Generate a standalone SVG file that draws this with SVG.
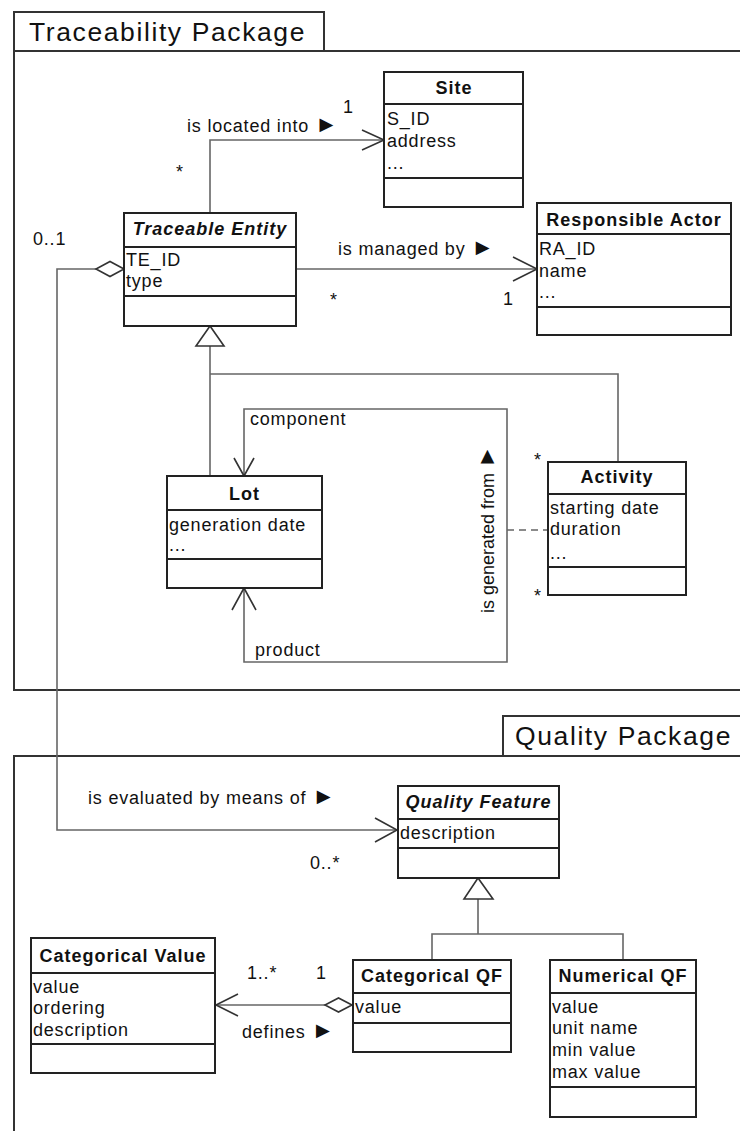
<svg xmlns="http://www.w3.org/2000/svg" width="740" height="1131" viewBox="0 0 740 1131">
<style>
text{font-family:"Liberation Sans",Arial,sans-serif;fill:#111;}
.attr{font-size:18px;letter-spacing:0.8px;}
.lbl{font-size:18px;letter-spacing:0.8px;}
.tri{font-size:23px;}
.hdr{font-size:18px;font-weight:bold;letter-spacing:1px;text-anchor:middle;}
.abs{font-style:italic;}
.pkg{font-size:26.5px;letter-spacing:1.6px;}
.box{fill:#fff;stroke:#222;stroke-width:2;}
.sep{stroke:#222;stroke-width:2;}
.frame{fill:none;stroke:#333;stroke-width:2;}
.con{fill:none;stroke:#666;stroke-width:1.6;}
.head{fill:none;stroke:#333;stroke-width:1.6;}
.dia{fill:#fff;stroke:#333;stroke-width:1.6;}
</style>

<g id="traceability-package">
<rect x="14" y="12" width="310" height="39" class="frame" fill="#fff"/>
<path d="M14 51 H742 M14 51 V690 H742" class="frame"/>
<text x="29" y="41" class="pkg">Traceability Package</text>
</g>

<g id="quality-package">
<rect x="503" y="716" width="240" height="40" class="frame"/>
<path d="M742 756 H14 V1133" class="frame"/>
<text x="515" y="745" class="pkg">Quality Package</text>
</g>

<g id="connectors">
<!-- TE to Site -->
<path d="M210 213 V140 H384" class="con"/>
<path d="M362 130 L384 140 L362 150" class="head"/>
<!-- TE to Responsible Actor -->
<path d="M296 269 H537" class="con"/>
<path d="M513 257 L537 269 L513 281" class="head"/>
<!-- TE generalization -->
<path d="M210 346 V476 M210 374 H618 V462" class="con"/>
<polygon points="210,326 196,346 224,346" class="dia"/>
<!-- component / product loop -->
<path d="M244 476 V409 H507 V662 H244 V588" class="con"/>
<path d="M234 458 L244 476 L254 458" class="head"/>
<path d="M232 610 L244 588 L256 610" class="head"/>
<path d="M507 530 H548" class="con" stroke-dasharray="7,5"/>
<!-- TE aggregation to Quality Feature -->
<path d="M96 269 H57 V830 H397" class="con"/>
<polygon points="124,269 110,261.5 96,269 110,276.5" class="dia"/>
<path d="M375 818 L397 830 L375 842" class="head"/>
<!-- QF generalization -->
<path d="M478 899 V934 M432 960 V934 H623 V960" class="con"/>
<polygon points="478,878 464,899 493,899" class="dia"/>
<!-- defines -->
<path d="M325 1005 H216" class="con"/>
<polygon points="352,1005 338.5,998 325,1005 338.5,1012" class="dia"/>
<path d="M238 994 L216 1005 L238 1016" class="head"/>

<text x="187" y="132" class="lbl">is located into <tspan class="tri">►</tspan></text>
<text x="343" y="113" class="lbl">1</text>
<text x="176" y="178" class="lbl">*</text>
<text x="33" y="245" class="lbl">0..1</text>
<text x="338" y="255" class="lbl">is managed by <tspan class="tri">►</tspan></text>
<text x="330" y="306" class="lbl">*</text>
<text x="503" y="305" class="lbl">1</text>
<text x="250" y="425" class="lbl">component</text>
<text x="255" y="656" class="lbl">product</text>
<text transform="translate(494,613) rotate(-90)" class="lbl" style="letter-spacing:0">is generated from <tspan class="tri">►</tspan></text>
<text x="534" y="466" class="lbl">*</text>
<text x="534" y="602" class="lbl">*</text>
<text x="88" y="804" class="lbl">is evaluated by means of <tspan class="tri">►</tspan></text>
<text x="310" y="869" class="lbl">0..*</text>
<text x="247" y="979" class="lbl">1..*</text>
<text x="316" y="979" class="lbl">1</text>
<text x="242" y="1038" class="lbl">defines <tspan class="tri">►</tspan></text>
</g>

<g id="site">
<rect x="384" y="72" width="139" height="135" class="box"/>
<path d="M384 104 H523 M384 178 H523" class="sep"/>
<text x="454" y="94" class="hdr">Site</text>
<text x="387" y="125" class="attr">S_ID</text>
<text x="387" y="147" class="attr">address</text>
<text x="387" y="169" class="attr">...</text>
</g>

<g id="traceable-entity">
<rect x="124" y="213" width="172" height="113" class="box"/>
<path d="M124 247 H296 M124 296 H296" class="sep"/>
<text x="210" y="235" class="hdr abs">Traceable Entity</text>
<text x="126" y="266" class="attr">TE_ID</text>
<text x="126" y="287" class="attr">type</text>
</g>

<g id="responsible-actor">
<rect x="537" y="203" width="194" height="132" class="box"/>
<path d="M537 234 H731 M537 307 H731" class="sep"/>
<text x="634" y="226" class="hdr">Responsible Actor</text>
<text x="539" y="255" class="attr">RA_ID</text>
<text x="539" y="277" class="attr">name</text>
<text x="539" y="298" class="attr">...</text>
</g>

<g id="lot">
<rect x="167" y="476" width="155" height="112" class="box"/>
<path d="M167 510 H322 M167 559 H322" class="sep"/>
<text x="244.5" y="500" class="hdr">Lot</text>
<text x="169" y="531" class="attr">generation date</text>
<text x="169" y="551" class="attr">...</text>
</g>

<g id="activity">
<rect x="548" y="462" width="138" height="133" class="box"/>
<path d="M548 494 H686 M548 567 H686" class="sep"/>
<text x="617" y="483" class="hdr">Activity</text>
<text x="550" y="514" class="attr">starting date</text>
<text x="550" y="535" class="attr">duration</text>
<text x="550" y="559" class="attr">...</text>
</g>

<g id="quality-feature">
<rect x="398" y="786" width="161" height="92" class="box"/>
<path d="M398 819 H559 M398 848 H559" class="sep"/>
<text x="478.5" y="808" class="hdr abs">Quality Feature</text>
<text x="400" y="839" class="attr">description</text>
</g>

<g id="categorical-value">
<rect x="31" y="938" width="184" height="135" class="box"/>
<path d="M31 973 H215 M31 1044 H215" class="sep"/>
<text x="123" y="962" class="hdr">Categorical Value</text>
<text x="33" y="993" class="attr">value</text>
<text x="33" y="1014" class="attr">ordering</text>
<text x="33" y="1036" class="attr">description</text>
</g>

<g id="categorical-qf">
<rect x="353" y="960" width="158" height="92" class="box"/>
<path d="M353 993 H511 M353 1023 H511" class="sep"/>
<text x="432" y="982" class="hdr">Categorical QF</text>
<text x="355" y="1013" class="attr">value</text>
</g>

<g id="numerical-qf">
<rect x="550" y="960" width="146" height="157" class="box"/>
<path d="M550 993 H696 M550 1087 H696" class="sep"/>
<text x="623" y="982" class="hdr">Numerical QF</text>
<text x="552" y="1013" class="attr">value</text>
<text x="552" y="1034" class="attr">unit name</text>
<text x="552" y="1056" class="attr">min value</text>
<text x="552" y="1078" class="attr">max value</text>
</g>
</svg>
